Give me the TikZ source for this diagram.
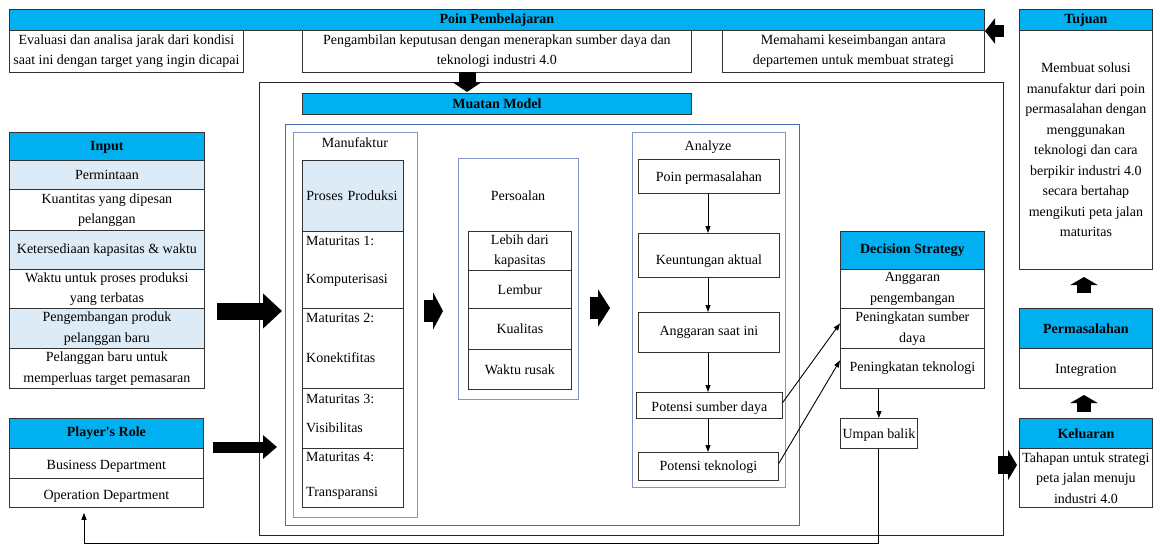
\documentclass[tikz,border=0pt]{standalone}
\usepackage{fontspec}
\setmainfont{Liberation Serif}[Ligatures=TeXOff]
\usetikzlibrary{arrows.meta,calc}
\definecolor{hdr}{HTML}{00B0F0}
\definecolor{lite}{HTML}{DDEBF7}
\definecolor{bline}{HTML}{4A6AAE}
\definecolor{bline2}{HTML}{8196C8}
\newcommand{\rbox}[6]{\node[#1, minimum width={(#4)-(#2)}, minimum height={(#5)-(#3)}] (#6) at (#2,#3)}
\newcommand{\low}[2]{\raisebox{-#1pt}[\height][\depth]{#2}}
\begin{document}
\begin{tikzpicture}[x=1pt,y=-1pt,
  font=\fontsize{14}{20.5}\selectfont,
  cell/.style={draw=black!80, line width=0.8pt, inner sep=0pt, align=center, anchor=north west, fill=white},
  litecell/.style={cell, fill=lite},
  hdrcell/.style={cell, fill=hdr, font=\fontsize{14}{20.5}\selectfont\bfseries},
  mattext/.style={anchor=north west, align=left, inner sep=0pt, xshift=4pt},
  frame/.style={draw=black!85, line width=0.9pt, anchor=north west, inner sep=0pt},
  bframe/.style={draw=bline, line width=0.9pt, anchor=north west, inner sep=0pt},
  lframe/.style={draw=bline2, line width=1.1pt, anchor=north west, inner sep=0pt},
  title/.style={inner sep=0pt},
  fat/.style n args={3}{line width=#1, -{Triangle[width=#2,length=#3]}},
  arr/.style={line width=0.9pt, -{Triangle[length=7pt,width=5pt]}}
]
\useasboundingbox (0,0) rectangle (1153,544);
\fill[white] (0,0) rectangle (1153,544);

% outer big box and containers
\rbox{frame}{259}{82}{1003}{535}{big} {};
\rbox{bframe}{285}{124}{799}{525}{muatanin} {};
\rbox{lframe}{293}{132}{417}{517}{manbox} {};
\rbox{lframe}{458}{158}{578}{399}{persbox} {};
\rbox{lframe}{632}{132}{785}{487}{anabox} {};

% Poin Pembelajaran
\rbox{hdrcell}{9}{9}{984}{30}{poinh} {Poin Pembelajaran};
\rbox{cell}{9}{30}{243}{72}{poin1} {Evaluasi dan analisa jarak dari kondisi\\saat ini dengan target yang ingin dicapai};
\rbox{cell}{302}{30}{691}{72}{poin2} {Pengambilan keputusan dengan menerapkan sumber daya dan\\teknologi industri 4.0};
\rbox{cell}{722}{30}{984}{72}{poin3} {Memahami keseimbangan antara\\departemen untuk membuat strategi};

% Tujuan
\rbox{hdrcell}{1019}{9}{1152}{30}{tujh} {Tujuan};
\rbox{cell}{1019}{30}{1152}{269}{tuj1} {Membuat solusi\\manufaktur dari poin\\permasalahan dengan\\menggunakan\\teknologi dan cara\\berpikir industri 4.0\\secara bertahap\\mengikuti peta jalan\\maturitas};

% Muatan Model
\rbox{hdrcell}{302}{93}{691}{114}{muatanh} {Muatan Model};

% Input
\rbox{hdrcell}{9}{132}{204}{160}{inh} {\low{1}{Input}};
\rbox{litecell}{9}{160}{204}{189}{in1} {Permintaan};
\rbox{cell}{9}{189}{204}{230}{in2} {Kuantitas yang dipesan\\pelanggan};
\rbox{litecell}{9}{230}{204}{269}{in3} {Ketersediaan kapasitas \& waktu};
\rbox{cell}{9}{269}{204}{308}{in4} {Waktu untuk proses produksi\\yang terbatas};
\rbox{litecell}{9}{308}{204}{348}{in5} {Pengembangan produk\\pelanggan baru};
\rbox{cell}{9}{348}{204}{388}{in6} {Pelanggan baru untuk\\memperluas target pemasaran};

% Player's Role
\rbox{hdrcell}{9}{418}{203}{448}{prh} {Player's Role};
\rbox{cell}{9}{448}{203}{478}{pr1} {\low{3}{Business Department}};
\rbox{cell}{9}{478}{203}{507}{pr2} {\low{3}{Operation Department}};

% Manufaktur
\node[title] (mant) at (355,143) {Manufaktur};
\rbox{litecell, align=left, text width=93pt, inner xsep=3pt}{302}{160}{403}{231}{mp} {Proses Produksi};
\rbox{cell}{302}{231}{403}{308}{m1} {};
\rbox{cell}{302}{308}{403}{388}{m2} {};
\rbox{cell}{302}{388}{403}{448}{m3} {};
\rbox{cell}{302}{448}{403}{507}{m4} {};
\node[mattext] (m1t) at ([yshift=-5pt]m1.north west) {Maturitas 1:\\[18pt]Komputerisasi};
\node[mattext] (m2t) at ([yshift=-5pt]m2.north west) {Maturitas 2:\\[19.5pt]Konektifitas};
\node[mattext] (m3t) at ([yshift=-6pt]m3.north west) {Maturitas 3:\\[8.5pt]Visibilitas};
\node[mattext] (m4t) at ([yshift=-4pt]m4.north west) {Maturitas 4:\\[14.5pt]Transparansi};

% Persoalan
\node[title] (perst) at (518,196) {Persoalan};
\rbox{cell}{468}{231}{571}{270}{p1} {Lebih dari\\kapasitas};
\rbox{cell}{468}{270}{571}{308}{p2} {Lembur};
\rbox{cell}{468}{308}{571}{349}{p3} {Kualitas};
\rbox{cell}{468}{349}{571}{389}{p4} {Waktu rusak};

% Analyze
\node[title] (anat) at (708,147) {Analyze};
\rbox{cell}{638}{159}{779}{193}{a1} {\low{2}{Poin permasalahan}};
\rbox{cell}{638}{233}{779}{277}{a2} {\low{6}{Keuntungan aktual}};
\rbox{cell}{638}{312}{779}{352}{a3} {Anggaran saat ini};
\rbox{cell}{636}{392}{782}{418}{a4} {\low{3}{Potensi sumber daya}};
\rbox{cell}{638}{452}{778}{480}{a5} {\low{1}{Potensi teknologi}};

% Decision Strategy
\rbox{hdrcell}{840}{231}{984}{269}{dsh} {Decision Strategy};
\rbox{cell}{840}{269}{984}{308}{ds1} {Anggaran\\pengembangan};
\rbox{cell}{840}{308}{984}{348}{ds2} {Peningkatan sumber\\daya};
\rbox{cell}{840}{348}{984}{388}{ds3} {Peningkatan teknologi};
\rbox{cell}{840}{418}{917}{448}{umpan} {\low{2}{Umpan balik}};

% Permasalahan and Keluaran
\rbox{hdrcell}{1019}{308}{1152}{348}{pmh} {Permasalahan};
\rbox{cell}{1019}{348}{1152}{388}{pm1} {\low{2}{Integration}};
\rbox{hdrcell}{1019}{418}{1152}{448}{klh} {Keluaran};
\rbox{cell}{1019}{448}{1152}{507}{kl1} {Tahapan untuk strategi\\peta jalan menuju\\industri 4.0};

% fat block arrows
\coordinate (fa1) at (1004,31); \coordinate (fb1) at (985,31);
\draw[fat={12pt}{25pt}{10pt}] (fa1) -- (fb1);
\coordinate (fa2) at (467,72); \coordinate (fb2) at (467,92);
\draw[fat={17pt}{29pt}{10pt}] (fa2) -- (fb2);
\coordinate (fa3) at (217,311); \coordinate (fb3) at (282,311);
\draw[fat={17pt}{34pt}{19pt}] (fa3) -- (fb3);
\coordinate (fa4) at (213,447); \coordinate (fb4) at (277,447);
\draw[fat={11pt}{23pt}{14pt}] (fa4) -- (fb4);
\coordinate (fa5) at (424,311); \coordinate (fb5) at (443,311);
\draw[fat={22pt}{37pt}{10pt}] (fa5) -- (fb5);
\coordinate (fa6) at (590,308); \coordinate (fb6) at (610,308);
\draw[fat={22pt}{37pt}{12pt}] (fa6) -- (fb6);
\coordinate (fa7) at (1084,293); \coordinate (fb7) at (1084,277);
\draw[fat={14pt}{27pt}{8pt}] (fa7) -- (fb7);
\coordinate (fa8) at (1084,412); \coordinate (fb8) at (1084,395);
\draw[fat={14pt}{27pt}{8pt}] (fa8) -- (fb8);
\coordinate (fa9) at (998,465); \coordinate (fb9) at (1017,465);
\draw[fat={18pt}{30pt}{9pt}] (fa9) -- (fb9);

% analyze chain
\draw[arr] (a1.south -| 708,0) -- (a2.north -| 708,0);
\draw[arr] (a2.south -| 708,0) -- (a3.north -| 708,0);
\draw[arr] (a3.south -| 708,0) -- (a4.north -| 708,0);
\draw[arr] (a4.south -| 708,0) -- (a5.north -| 708,0);

% to decision
\draw[arr] ([yshift=3pt]a4.east) -- ([yshift=5pt]ds2.west);
\draw[arr] ([yshift=3pt]a5.east) -- ([yshift=8pt]ds3.west);
\draw[arr] (umpan.north |- ds3.south) -- (umpan.north);

% feedback
\coordinate (fbend) at (84,543);
\draw[arr] (umpan.south) |- (fbend) -- ([yshift=-5pt]fbend |- pr2.south);
\end{tikzpicture}
\end{document}
